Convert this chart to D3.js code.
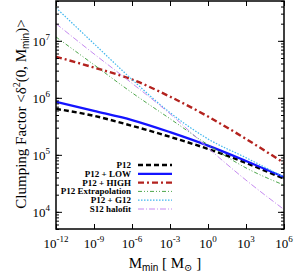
<!DOCTYPE html>
<html>
<head>
<meta charset="utf-8">
<script src="https://cdn.jsdelivr.net/npm/d3@7/dist/d3.min.js"></script>
<style>
  html, body { margin: 0; padding: 0; background: #fff; }
  svg { display: block; font-family: "Liberation Serif", "DejaVu Serif", serif; }
</style>
</head>
<body>
<svg id="chart" width="299" height="272"></svg>
<script>
// log10(M_min) at the major ticks
const logMass = [-12, -9, -6, -3, 0, 3, 6];

// clumping factor, one array per curve
const p12      = [6.4e5, 4.83e5, 3.23e5, 2.07e5, 1.27e5, 7.2e4, 3.8e4];
const p12Low   = [8.5e5, 5.9e5, 4.07e5, 2.5e5, 1.45e5, 7.8e4, 4.07e4];
const p12High  = [5.25e6, 3.4e6, 2.1e6, 1.05e6, 4.7e5, 1.9e5, 7.2e4];
const p12Extra = [1.17e7, 3.8e6, 1.23e6, 4.3e5, 1.5e5, 5.9e4, 2.95e4];
const p12G12   = [3.8e7, 8.9e6, 2.1e6, 5.5e5, 1.9e5, 8.9e4, 4.07e4];
const s12      = [2.0e7, 5.9e6, 1.8e6, 5.25e5, 1.32e5, 3.6e4, 1.1e4];

const legendLabels = ["P12", "P12 + LOW", "P12 + HIGH", "P12 Extrapolation", "P12 + G12", "S12 halofit"];
const xTickExps = [-12, -9, -6, -3, 0, 3, 6];
const yTickExps = [4, 5, 6, 7];

const series = [
  { values: p12,      color: "#000000", width: 2.4, dash: "5,3" },
  { values: p12Low,   color: "#1414ff", width: 2.2, dash: null },
  { values: p12High,  color: "#b3221e", width: 2.4, dash: "6,3,2,3" },
  { values: p12Extra, color: "#4da64a", width: 1,   dash: "4,2,1,2,1,2" },
  { values: p12G12,   color: "#3fb6ee", width: 1.2, dash: "1.5,1.5" },
  { values: s12,      color: "#c58af0", width: 1,   dash: "6,2,1,2" }
];

const margin = { top: 1, right: 15, bottom: 43, left: 56 };
const width = 299, height = 272;
const plotW = width - margin.left - margin.right;
const plotH = height - margin.top - margin.bottom;

const svg = d3.select("#chart");
const g = svg.append("g").attr("transform", `translate(${margin.left},${margin.top})`);

const x = d3.scaleLog().domain([1e-12, 1e6]).range([0, plotW]);
const y = d3.scaleLog().domain([5e3, 5e7]).range([plotH, 0]);

// clip so curves stay inside the frame
svg.append("defs").append("clipPath").attr("id", "clip")
  .append("rect").attr("width", plotW).attr("height", plotH);

const line = d3.line()
  .x(d => x(Math.pow(10, d[0])))
  .y(d => y(d[1]))
  .curve(d3.curveMonotoneX);

const curves = g.append("g").attr("clip-path", "url(#clip)");
series.forEach(s => {
  curves.append("path")
    .datum(logMass.map((m, i) => [m, s.values[i]]))
    .attr("d", line)
    .attr("fill", "none")
    .attr("stroke", s.color)
    .attr("stroke-width", s.width)
    .attr("stroke-dasharray", s.dash);
});

// ticks, inward, on all four sides
const xTicks = xTickExps.map(e => Math.pow(10, e));
const yMinor = [];
d3.range(3, 8).forEach(e => d3.range(1, 10).forEach(k => {
  const v = k * Math.pow(10, e);
  if (v >= 5e3 && v <= 5e7) yMinor.push(v);
}));

g.append("g").attr("transform", `translate(0,${plotH})`)
  .call(d3.axisBottom(x).tickValues(xTicks).tickSize(-5).tickFormat(""));
g.append("g")
  .call(d3.axisTop(x).tickValues(xTicks).tickSize(-5).tickFormat(""));
g.append("g")
  .call(d3.axisLeft(y).tickValues(yMinor).tickSize(-3).tickFormat(""));
g.append("g").attr("transform", `translate(${plotW},0)`)
  .call(d3.axisRight(y).tickValues(yMinor).tickSize(-3).tickFormat(""));
g.append("g")
  .call(d3.axisLeft(y).tickValues(yTickExps.map(e => Math.pow(10, e))).tickSize(-6).tickFormat(""));
g.append("g").attr("transform", `translate(${plotW},0)`)
  .call(d3.axisRight(y).tickValues(yTickExps.map(e => Math.pow(10, e))).tickSize(-6).tickFormat(""));
g.selectAll(".domain").remove();
g.selectAll(".tick line").attr("stroke", "#000").attr("stroke-width", 1);

g.append("rect")
  .attr("width", plotW).attr("height", plotH)
  .attr("fill", "none").attr("stroke", "#000").attr("stroke-width", 1.5);

// tick labels with superscripts
xTickExps.forEach(e => {
  const t = g.append("text")
    .attr("x", x(Math.pow(10, e)))
    .attr("y", plotH + 19)
    .attr("text-anchor", "middle")
    .attr("font-size", 13);
  t.append("tspan").text("10");
  t.append("tspan").attr("dy", -6).attr("font-size", 9).text(e);
});

yTickExps.forEach(e => {
  const t = g.append("text")
    .attr("x", -6)
    .attr("y", y(Math.pow(10, e)) + 5)
    .attr("text-anchor", "end")
    .attr("font-size", 13);
  t.append("tspan").text("10");
  t.append("tspan").attr("dy", -6).attr("font-size", 9).text(e);
});

// axis titles
const xTitle = svg.append("text")
  .attr("x", 165).attr("y", 268)
  .attr("text-anchor", "middle")
  .attr("font-size", 15);
xTitle.append("tspan").text("M");
xTitle.append("tspan").attr("dy", 3).attr("font-size", 10).attr("font-family", "Liberation Sans, sans-serif").text("min");
xTitle.append("tspan").attr("dy", -3).text(" [ M");
xTitle.append("tspan").attr("dy", 3).attr("font-size", 10).text("\u2299");
xTitle.append("tspan").attr("dy", -3).text(" ]");

const yTitle = svg.append("text")
  .attr("transform", "translate(26,114) rotate(-90)")
  .attr("text-anchor", "middle")
  .attr("font-size", 15);
yTitle.append("tspan").text("Clumping Factor <\u03b4");
yTitle.append("tspan").attr("dy", -6).attr("font-size", 10).text("2");
yTitle.append("tspan").attr("dy", 6).text("(0, M");
yTitle.append("tspan").attr("dy", 3).attr("font-size", 10).attr("font-family", "Liberation Sans, sans-serif").text("min");
yTitle.append("tspan").attr("dy", -3).text(")>");

// legend
const legend = svg.append("g").attr("transform", "translate(131,165)");
legendLabels.forEach((label, i) => {
  const row = legend.append("g").attr("transform", `translate(0,${i * 8.8})`);
  row.append("text")
    .attr("x", 0).attr("y", 3)
    .attr("text-anchor", "end")
    .attr("font-size", 9)
    .attr("font-weight", "bold")
    .text(label);
  row.append("line")
    .attr("x1", 7).attr("x2", 41)
    .attr("y1", 0).attr("y2", 0)
    .attr("stroke", series[i].color)
    .attr("stroke-width", series[i].width)
    .attr("stroke-dasharray", series[i].dash);
});
</script>
</body>
</html>
